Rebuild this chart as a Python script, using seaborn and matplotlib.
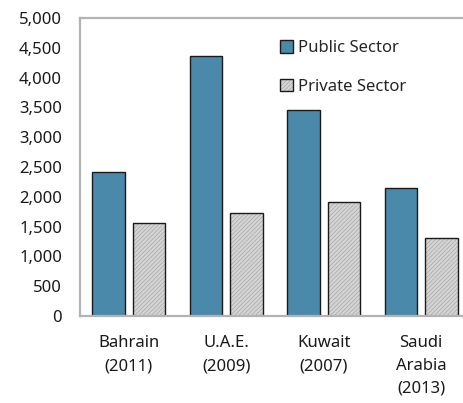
import pandas as pd
import matplotlib
matplotlib.use('Agg')
import matplotlib.pyplot as plt
import matplotlib.colors as mcolors
from matplotlib.patches import Patch
from matplotlib.ticker import FuncFormatter, MultipleLocator
import seaborn as sns

# datos
countries = ['Bahrain\n(2011)', 'U.A.E.\n(2009)', 'Kuwait\n(2007)', 'Saudi\nArabia\n(2013)']
public_sector = [2420, 4370, 3460, 2150]
private_sector = [1565, 1720, 1920, 1310]
series = ['Public Sector', 'Private Sector']

df = pd.DataFrame({
    'country': countries * 2,
    'sector': [series[0]] * 4 + [series[1]] * 4,
    'value': public_sector + private_sector,
})

sns.set_style('white')
plt.rcParams['font.family'] = ['Noto Sans', 'DejaVu Sans']
plt.rcParams['hatch.linewidth'] = 0.5

blue = '#4a89aa'
grey = '#d4d4d4'
axis_grey = '#b3b3b3'
hatch_grey = mcolors.to_rgba('#a8a8a8')

fig = plt.figure(figsize=(4.64, 4.03), dpi=100)
ax = fig.add_axes([80 / 464, (403 - 316) / 403, (470 - 80) / 464, (316 - 18) / 403])

sns.barplot(data=df, x='country', y='value', hue='sector', order=countries,
            hue_order=series, palette=[blue, grey], saturation=1, width=0.833,
            gap=0.2, edgecolor='#1a1a1a', linewidth=1.0, legend=False, ax=ax)

# trama de la serie privada
for p in ax.patches[4:8]:
    p.set_hatch('////////')
    p._hatch_color = hatch_grey

ax.set_ylim(0, 5000)
ax.set_xlim(-0.5, 3.5)
ax.yaxis.set_major_locator(MultipleLocator(500))
ax.yaxis.set_major_formatter(FuncFormatter(lambda v, _: f'{int(v):,}'))
ax.set_xlabel('')
ax.set_ylabel('')

for s in ['left', 'bottom', 'top']:
    ax.spines[s].set_color(axis_grey)
    ax.spines[s].set_linewidth(1.6)
ax.spines['right'].set_visible(False)

ax.tick_params(axis='y', direction='in', length=6, width=1.4, color=axis_grey,
               labelsize=12, pad=13, labelcolor='#1a1a1a')
ax.tick_params(axis='x', which='major', length=0, labelsize=12, pad=14,
               labelcolor='#1a1a1a')
ax.set_xticks([0.5, 1.5, 2.5], minor=True)
ax.tick_params(axis='x', which='minor', direction='in', length=5, width=1.4,
               color=axis_grey)
for lbl in ax.get_xticklabels():
    lbl.set_linespacing(1.55)
    lbl.set_va('top')

h_public = Patch(facecolor=blue, edgecolor='#1a1a1a', linewidth=1.0, label=series[0])
h_private = Patch(facecolor=grey, edgecolor='#1a1a1a', linewidth=1.0, hatch='////////',
                  label=series[1])
leg = fig.legend(handles=[h_public, h_private], loc='upper left',
                 bbox_to_anchor=(272 / 464, 1 - 32 / 403), frameon=False,
                 fontsize=12, handlelength=0.75, handleheight=0.75,
                 handletextpad=0.3, labelspacing=1.35, borderpad=0)
for p in leg.get_patches()[1:]:
    p._hatch_color = hatch_grey

# etiqueta de unidades (cortada arriba)
fig.text(40 / 464, 1 - 1 / 403, '(US$)', color='#5b9bd5', fontsize=11,
         ha='center', va='bottom')

plt.savefig('out.png', dpi=100)
plt.close()
